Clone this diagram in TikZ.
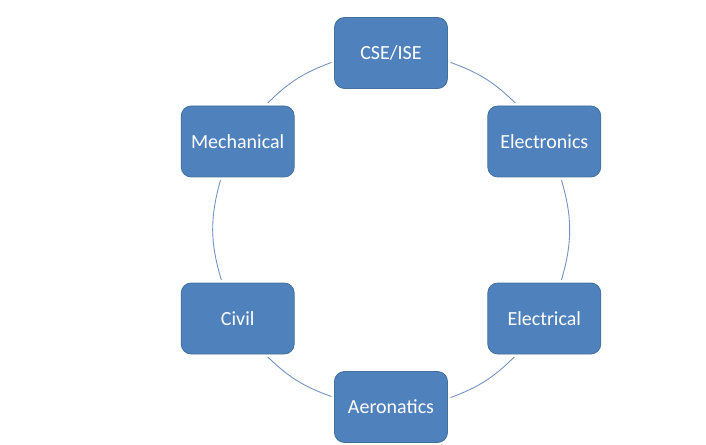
\documentclass[tikz,border=0pt]{standalone}
\usepackage{fontspec}
\setmainfont{Carlito}
\definecolor{boxblue}{HTML}{4F81BD}
\definecolor{boxedge}{HTML}{41719C}
\definecolor{ringblue}{HTML}{7393C0}

\begin{document}
\begin{tikzpicture}[x=1pt,y=1pt,
  dept/.style={draw=boxedge, fill=boxblue, rounded corners=10pt, minimum width=113pt, minimum height=71pt, text=white, font=\fontsize{20}{24}\selectfont, outer sep=3pt, line width=0.8pt},
  ring/.style={ringblue, line width=0.9pt}]
\useasboundingbox (-391,230) rectangle (315,-214);
\node[dept] (cse) at (90:177) {CSE/ISE};
\node[dept] (ece) at (30:177) {Electronics};
\node[dept] (eee) at (-30:177) {Electrical};
\node[dept] (aero) at (-90:177) {Aeronatics};
\node[dept] (civ) at (210:177) {Civil};
\node[dept] (mech) at (150:177) {Mechanical};
% ring segments, leaving each box where the circle crosses its border
\draw[ring] (cse.-9.8) to[bend left=12.3] (ece.127.9);
\draw[ring] (ece.-66.9) to[bend left=16.4] (eee.66.9);
\draw[ring] (eee.232.1) to[bend left=12.3] (aero.9.8);
\draw[ring] (aero.170.2) to[bend left=12.3] (civ.-52.1);
\draw[ring] (civ.113.1) to[bend left=16.4] (mech.246.9);
\draw[ring] (mech.52.1) to[bend left=12.3] (cse.189.8);
\end{tikzpicture}
\end{document}
